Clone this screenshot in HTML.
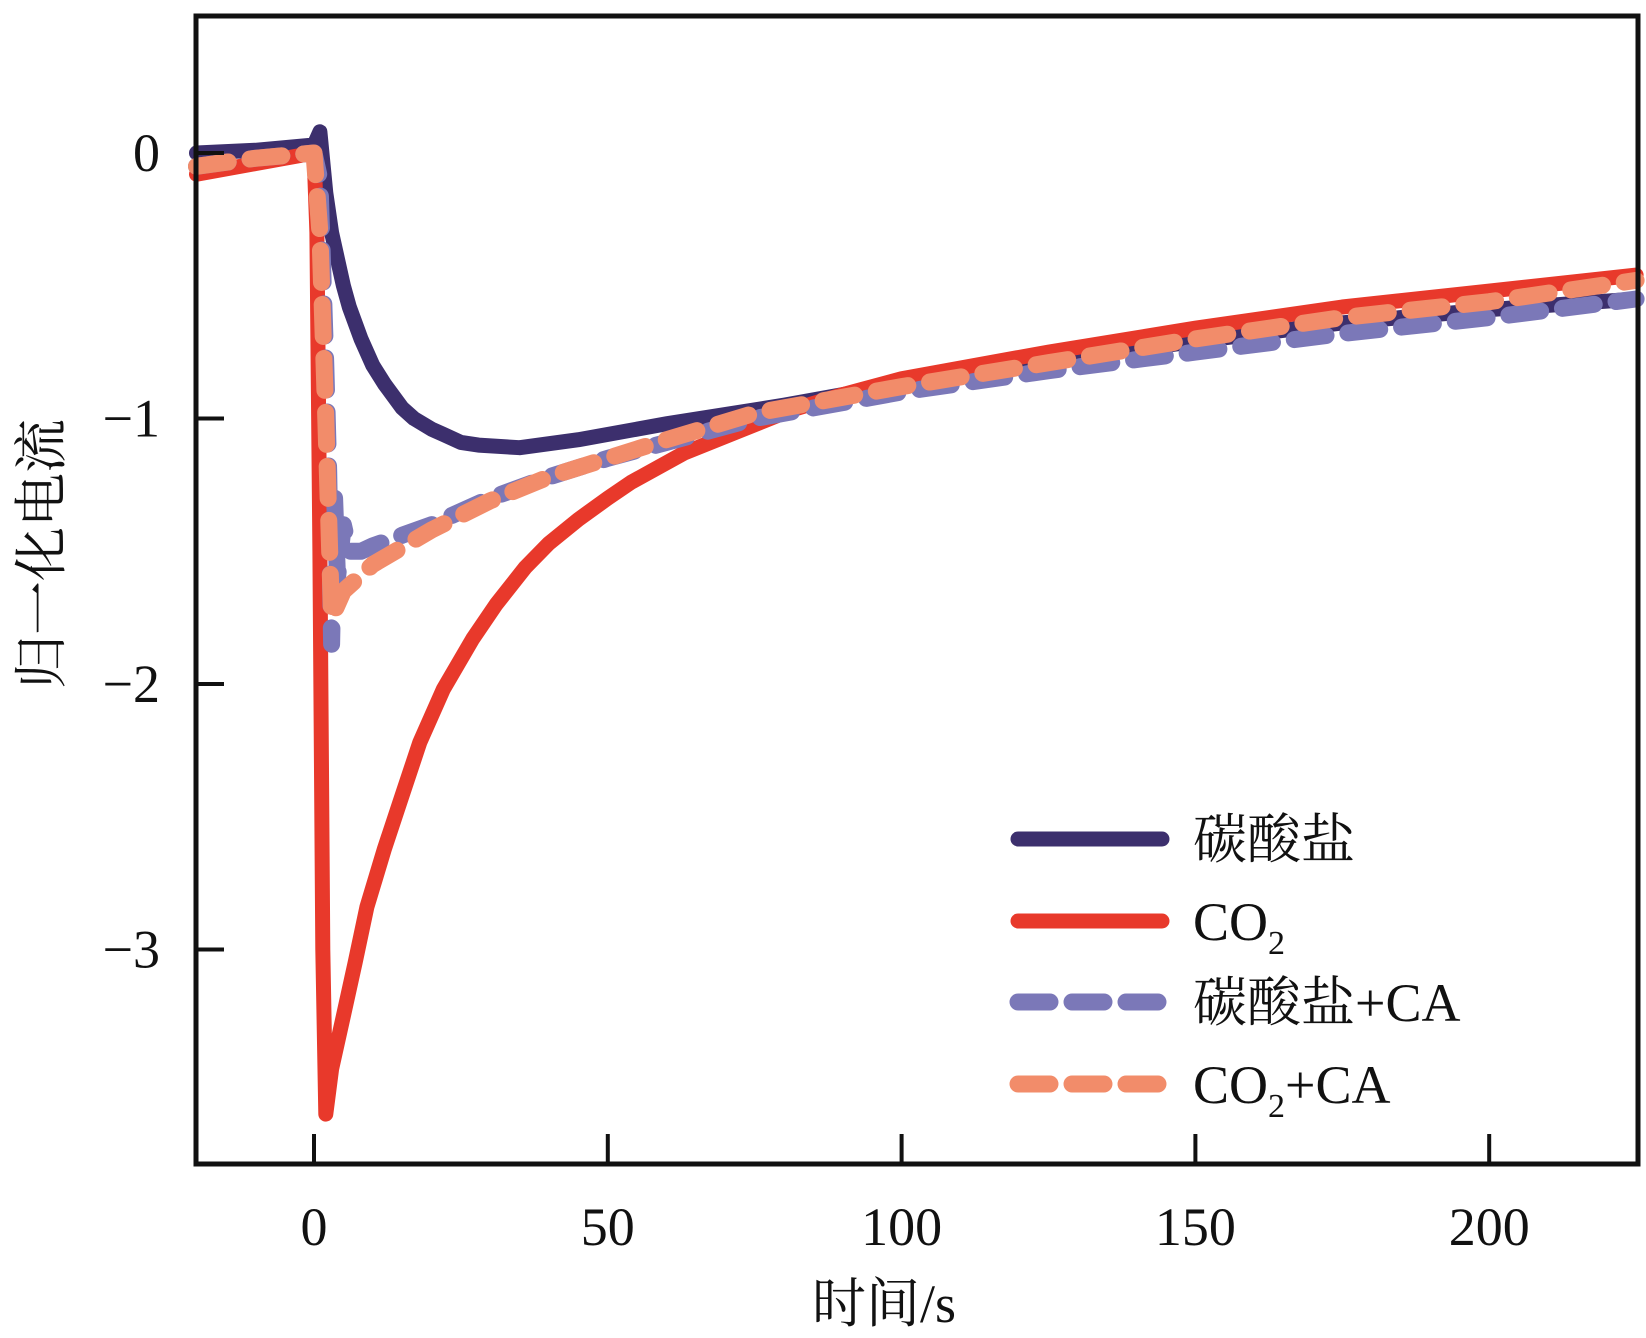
<!DOCTYPE html>
<html><head><meta charset="utf-8"><style>
html,body{margin:0;padding:0;background:#fff;}
svg{display:block;}
text{font-family:"Liberation Serif","Noto Serif CJK SC","Noto Sans CJK SC",serif;fill:#111;}
</style></head><body>
<svg id="chart" width="1646" height="1338" viewBox="0 0 1646 1338" xmlns="http://www.w3.org/2000/svg">
<g id="series"></g>
<rect x="196" y="16" width="1442" height="1148" fill="none" stroke="#111" stroke-width="5"/>
<g id="axes"></g>
<text x="884" y="1322" font-size="54" text-anchor="middle">时间/s</text>
<text transform="translate(60,554) rotate(-90)" font-size="54" text-anchor="middle">归一化电流</text>
<g id="legend"></g>
</svg>
<script>
const xTicks=[0,50,100,150,200];
const yTicks=[0,-1,-2,-3];
const yTickLabels=["0","\u22121","\u22122","\u22123"];
const seriesNames=["碳酸盐","CO2","碳酸盐+CA","CO2+CA"];
const carbX=[-20,-10,0,1,2,3,4,5,6,8,10,12,15,17,20,22,25,28,35,45,60,80,100,125,150,175,200,225];
const carbY=[0,0.01,0.03,0.08,-0.15,-0.3,-0.4,-0.5,-0.58,-0.7,-0.8,-0.87,-0.96,-1.0,-1.04,-1.06,-1.09,-1.1,-1.11,-1.08,-1.02,-0.95,-0.87,-0.78,-0.71,-0.64,-0.59,-0.55];
const co2X=[-20,-10,0,0.5,1,1.5,2,3,5,7,9,12,15,18,22,27,31,36,40,45,50,54,63,72,81,90,100,125,150,175,200,225];
const co2Y=[-0.08,-0.04,0,-0.3,-1.5,-3.0,-3.62,-3.45,-3.25,-3.05,-2.84,-2.62,-2.42,-2.22,-2.02,-1.83,-1.7,-1.56,-1.47,-1.38,-1.3,-1.24,-1.13,-1.05,-0.97,-0.91,-0.85,-0.75,-0.66,-0.58,-0.52,-0.46];
const carbCaX=[-20,-10,0,1,2,2.5,3,3.5,4,5,6,8,10,15,20,30,40,50,60,75,100,125,150,175,200,225];
const carbCaY=[-0.05,-0.02,0,-0.1,-0.8,-1.2,-1.85,-1.3,-1.6,-1.4,-1.5,-1.5,-1.48,-1.44,-1.4,-1.3,-1.22,-1.15,-1.09,-1.0,-0.9,-0.82,-0.75,-0.68,-0.62,-0.55];
const co2CaX=[-20,-10,0,1,2,3,5,10,20,30,40,50,60,75,100,125,150,175,200,225];
const co2CaY=[-0.05,-0.02,0,-0.3,-1.0,-1.75,-1.65,-1.55,-1.42,-1.31,-1.22,-1.15,-1.08,-0.98,-0.88,-0.79,-0.7,-0.62,-0.56,-0.48];

const NS="http://www.w3.org/2000/svg";
const xScale=v=>314+v*5.876;
const yScale=v=>153-v*265.5;
function mk(tag,parent){const e=document.createElementNS(NS,tag);parent.appendChild(e);return e;}
const sg=document.getElementById('series');
const styles=[
 {xs:carbX,ys:carbY,c:"#3c2f6d",d:null,name:"series-carbonate"},
 {xs:co2X,ys:co2Y,c:"#e8392b",d:null,name:"series-co2"},
 {xs:carbCaX,ys:carbCaY,c:"#7b78b8",d:"32 22",name:"series-carbonate-ca"},
 {xs:co2CaX,ys:co2CaY,c:"#f28c6a",d:"32 22",name:"series-co2-ca"}];
styles.forEach(s=>{
 const p=mk('polyline',sg);
 
 
 p.setAttribute('points',s.xs.map((x,i)=>xScale(x).toFixed(1)+","+yScale(s.ys[i]).toFixed(1)).join(" "));
 p.setAttribute('fill','none');p.setAttribute('stroke',s.c);
 p.setAttribute('stroke-width',s.d?17:15);
 p.setAttribute('stroke-linecap','round');p.setAttribute('stroke-linejoin','round');
 if(s.d)p.setAttribute('stroke-dasharray',s.d);
});
const ax=document.getElementById('axes');
xTicks.forEach(t=>{
 const l=mk('line',ax);
 
 
 const x=xScale(t);
 l.setAttribute('x1',x);l.setAttribute('x2',x);l.setAttribute('y1',1164);l.setAttribute('y2',1134);
 l.setAttribute('stroke','#111');l.setAttribute('stroke-width',4);
 const tx=mk('text',ax);
 
 
 tx.setAttribute('x',x);tx.setAttribute('y',1245);tx.setAttribute('font-size','54');tx.setAttribute('text-anchor','middle');
 tx.textContent=t;
});
yTicks.forEach((t,i)=>{
 const l=mk('line',ax);
 
 
 const y=yScale(t);
 l.setAttribute('x1',196);l.setAttribute('x2',224);l.setAttribute('y1',y);l.setAttribute('y2',y);
 l.setAttribute('stroke','#111');l.setAttribute('stroke-width',4);
 const tx=mk('text',ax);
 
 
 tx.setAttribute('x',160);tx.setAttribute('y',y+18);tx.setAttribute('font-size','54');tx.setAttribute('text-anchor','end');
 tx.textContent=yTickLabels[i];
});
const lg=document.getElementById('legend');
const ly=[839,921,1002,1084];
styles.forEach((s,i)=>{
 const l=mk('line',lg);
 
 
 l.setAttribute('x1',1018);l.setAttribute('x2',1162);l.setAttribute('y1',ly[i]);l.setAttribute('y2',ly[i]);
 l.setAttribute('stroke',s.c);l.setAttribute('stroke-width',s.d?17:15);l.setAttribute('stroke-linecap','round');
 if(s.d)l.setAttribute('stroke-dasharray',s.d);
 const tx=mk('text',lg);
 
 
 tx.setAttribute('x',1193);tx.setAttribute('y',ly[i]+19);tx.setAttribute('font-size','54');
 const n=seriesNames[i];
 if(n.indexOf('CO2')===0){
  tx.appendChild(document.createTextNode('CO'));
  const sub=mk('tspan',tx);sub.setAttribute('font-size','34');sub.setAttribute('dy','14');sub.textContent='2';
  if(n.length>3){const r=mk('tspan',tx);r.setAttribute('dy','-14');r.textContent=n.slice(3);}
 } else tx.textContent=n;
});
</script>
</body></html>
